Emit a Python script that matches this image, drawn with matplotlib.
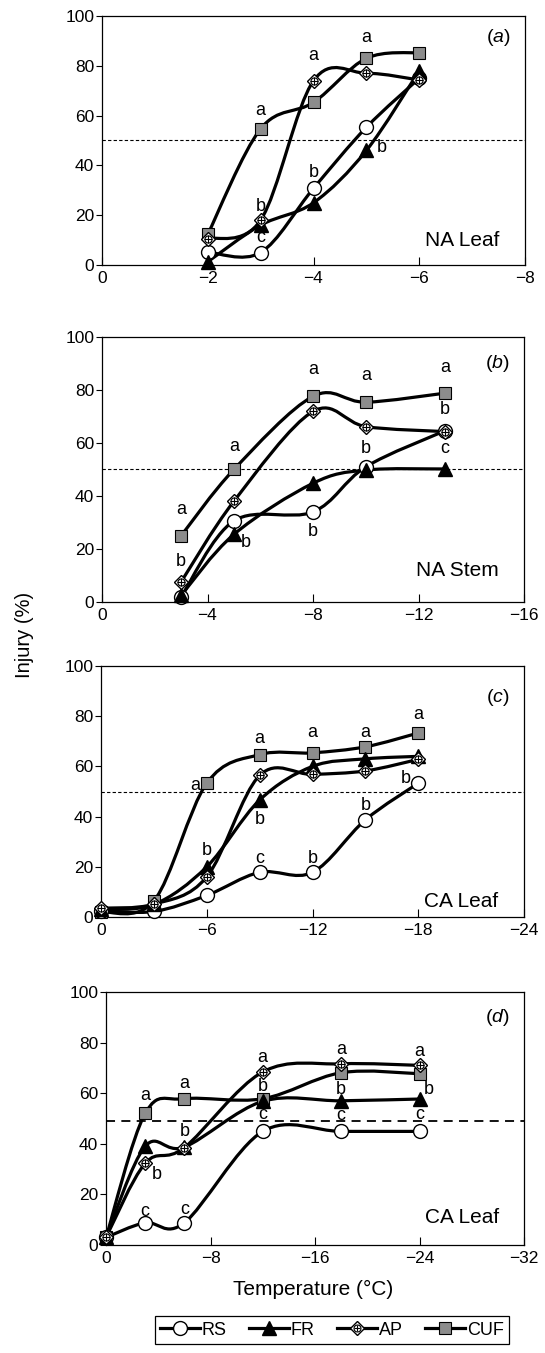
import numpy as np
import matplotlib
matplotlib.use('Agg')
import matplotlib.pyplot as plt
from matplotlib.path import Path
from matplotlib.patches import PathPatch
from matplotlib.lines import Line2D

plt.rcParams['font.family'] = ['Liberation Sans', 'DejaVu Sans']
plt.rcParams['mathtext.fontset'] = 'custom'
plt.rcParams['mathtext.it'] = 'Liberation Sans:italic'
plt.rcParams['mathtext.rm'] = 'Liberation Sans'

# ---- data (injury %) ----
# (a) NA Leaf
a_temp = [-2, -3, -4, -5, -6]
a_rs = [5.2, 5.0, 30.8, 55.3, 75.0]
a_fr = [1.3, 16.0, 25.0, 46.0, 78.0]
a_ap = [10.5, 18.0, 74.0, 77.0, 74.3]
a_cuf = [12.3, 54.7, 65.3, 83.0, 85.3]
a_letters = [('a', -3, 62), ('a', -4, 84), ('a', -5, 91.5), ('b', -5.29, 47),
             ('b', -4, 37), ('b', -3, 23.5), ('c', -3, 11)]

# (b) NA Stem
b_temp = [-3, -5, -8, -10, -13]
b_rs = [1.9, 30.6, 34.0, 51.0, 64.6]
b_fr = [2.5, 25.5, 44.8, 49.8, 50.2]
b_ap = [7.6, 38.0, 71.9, 66.2, 64.3]
b_cuf = [25.0, 50.0, 77.6, 75.4, 78.8]
b_letters = [('a', -3, 35), ('b', -3, 15.4), ('a', -5, 58.6), ('b', -5.44, 22.4),
             ('a', -8, 87.6), ('b', -8, 26.7), ('a', -10, 85.4), ('b', -10, 57.8),
             ('a', -13, 88.5), ('b', -13, 72.5), ('c', -13, 57.8)]

# (c) CA Leaf
c_temp = [0, -3, -6, -9, -12, -15, -18]
c_rs = [2.5, 2.2, 8.6, 17.8, 17.8, 38.7, 53.3]
c_fr = [3.0, 5.0, 20.0, 46.6, 60.0, 63.0, 64.0]
c_ap = [3.5, 5.1, 16.0, 56.4, 56.8, 58.2, 62.8]
c_cuf = [2.0, 6.4, 53.3, 64.7, 65.4, 67.8, 73.3]
c_letters = [('a', -5.36, 52.2), ('b', -6, 26.3), ('a', -9, 71.3), ('b', -9, 39),
             ('c', -9, 23.5), ('a', -12, 73.5), ('b', -12, 23.5), ('a', -15, 73.7),
             ('b', -15, 44.3), ('a', -18, 80.8), ('b', -17.3, 55.3)]

# (d) CA Leaf
d_temp = [0, -3, -6, -12, -18, -24]
d_rs = [3.0, 8.8, 8.8, 44.9, 44.9, 44.9]
d_fr = [3.0, 39.0, 38.7, 56.8, 57.0, 57.7]
d_ap = [3.0, 32.3, 38.5, 68.4, 71.6, 71.0]
d_cuf = [3.0, 52.0, 57.8, 57.8, 68.1, 67.7]
d_letters = [('a', -3, 59), ('a', -6, 64), ('b', -6, 45), ('b', -3.86, 27.7),
             ('c', -3, 13.3), ('c', -6, 14.2), ('a', -12, 74.2), ('b', -12, 62.8),
             ('c', -12, 51.6), ('a', -18, 77.4), ('b', -18, 61.5), ('c', -18, 51.2),
             ('a', -24, 76.5), ('b', -24.7, 61.3), ('c', -24, 51.6)]

panels = [
    ('a', 'NA Leaf', a_temp, a_rs, a_fr, a_ap, a_cuf, a_letters, [0, -2, -4, -6, -8], 50),
    ('b', 'NA Stem', b_temp, b_rs, b_fr, b_ap, b_cuf, b_letters, [0, -4, -8, -12, -16], 50),
    ('c', 'CA Leaf', c_temp, c_rs, c_fr, c_ap, c_cuf, c_letters, [0, -6, -12, -18, -24], 50),
    ('d', 'CA Leaf', d_temp, d_rs, d_fr, d_ap, d_cuf, d_letters, [0, -8, -16, -24, -32], 49),
]

# axes boxes in pixels: left, right, top, bottom
W, H = 545, 1353
boxes = [(102, 525, 16, 265), (102, 524, 337, 602), (101, 524, 666, 917), (106, 524, 992, 1245)]
text_pos = [(0.937, 0.915, 0.94, 0.10), (0.937, 0.90, 0.94, 0.117),
            (0.937, 0.874, 0.94, 0.063), (0.937, 0.90, 0.94, 0.11)]

LW = 2.3
sq_color = '0.55'


def smooth_path(xs, ys):
    # Catmull-Rom style bezier (like spreadsheet "smoothed line")
    pts = list(zip(xs, ys))
    n = len(pts)
    verts = [pts[0]]
    codes = [Path.MOVETO]
    for i in range(n - 1):
        p0 = pts[i - 1] if i > 0 else pts[i]
        p1 = pts[i]
        p2 = pts[i + 1]
        p3 = pts[i + 2] if i + 2 < n else pts[i + 1]
        c1 = (p1[0] + (p2[0] - p0[0]) / 6.0, p1[1] + (p2[1] - p0[1]) / 6.0)
        c2 = (p2[0] - (p3[0] - p1[0]) / 6.0, p2[1] - (p3[1] - p1[1]) / 6.0)
        verts += [c1, c2, p2]
        codes += [Path.CURVE4] * 3
    return Path(verts, codes)


def ap_markers(ax, x, y, ms=8.5):
    ax.plot(x, y, ls='none', marker='D', ms=ms * 0.85, mfc='white', mec='black', mew=1.0, clip_on=False, zorder=6)
    ax.plot(x, y, ls='none', marker='o', ms=ms * 0.6, mfc='none', mec='black', mew=0.8, clip_on=False, zorder=7)
    ax.plot(x, y, ls='none', marker='+', ms=ms * 0.6, mec='black', mew=0.8, clip_on=False, zorder=7)


fig = plt.figure(figsize=(W / 100, H / 100), dpi=100)

for (tag, name, temp, rs, fr, ap, cuf, letters, xt, cut), box, tp in zip(panels, boxes, text_pos):
    l, r, t, b = box
    ax = fig.add_axes([l / W, 1 - b / H, (r - l) / W, (b - t) / H])

    for ys in [rs, fr, ap, cuf]:
        ax.add_patch(PathPatch(smooth_path(temp, ys), fill=False, edgecolor='black',
                               lw=LW, capstyle='round', joinstyle='round', zorder=3, clip_on=False))

    if tag == 'd':
        ax.axhline(cut, color='black', lw=1.3, dashes=(5, 3.5), zorder=2)
    else:
        ax.axhline(cut, color='black', lw=0.8, dashes=(3, 2), zorder=2)

    ax.plot(temp, cuf, ls='none', marker='s', ms=9, mfc=sq_color, mec='black', mew=0.8, clip_on=False, zorder=5)
    ax.plot(temp, rs, ls='none', marker='o', ms=10, mfc='white', mec='black', mew=1.0, clip_on=False, zorder=5)
    ax.plot(temp, fr, ls='none', marker='^', ms=9.5, mfc='black', mec='black', clip_on=False, zorder=5)
    ap_markers(ax, temp, ap)

    for s, x, y in letters:
        ax.text(x, y, s, fontsize=13, ha='center', va='center', zorder=8)

    ax.text(tp[0], tp[1], r'($\mathit{' + tag + '}$)', transform=ax.transAxes,
            fontsize=14, ha='center', va='center')
    ax.text(tp[2], tp[3], name, transform=ax.transAxes, fontsize=15, ha='right', va='center')

    ax.set_xlim(xt[0], xt[-1])
    ax.set_ylim(0, 100)
    ax.set_xticks(xt)
    ax.set_yticks([0, 20, 40, 60, 80, 100])
    ax.tick_params(axis='x', direction='in', length=6, width=0.8, labelsize=12.5, pad=4)
    ax.tick_params(axis='y', direction='out', length=4.5, width=0.8, labelsize=12.5, pad=1)
    for sp in ax.spines.values():
        sp.set_linewidth(0.9)

fig.text(25 / W, 1 - 635 / H, 'Injury (%)', rotation=90, fontsize=14.5, ha='center', va='center')
fig.text(313 / W, 1 - 1289 / H, 'Temperature (\u00b0C)', fontsize=15, ha='center', va='center')

h_rs = Line2D([], [], color='black', lw=LW, marker='o', ms=10, mfc='white', mec='black')
h_fr = Line2D([], [], color='black', lw=LW, marker='^', ms=9.5, mfc='black', mec='black')
h_ap = (Line2D([], [], color='black', lw=LW, marker='D', ms=7.2, mfc='white', mec='black'),
        Line2D([], [], ls='none', marker='o', ms=5, mfc='none', mec='black', mew=0.8),
        Line2D([], [], ls='none', marker='+', ms=5, mec='black', mew=0.8))
h_cuf = Line2D([], [], color='black', lw=LW, marker='s', ms=9, mfc=sq_color, mec='black', mew=0.8)
leg = fig.legend([h_rs, h_fr, h_ap, h_cuf], ['RS', 'FR', 'AP', 'CUF'], ncol=4,
                 loc='lower center', bbox_to_anchor=(332 / W, 1 - 1344 / H), fontsize=13,
                 frameon=True, fancybox=False, edgecolor='black', framealpha=1,
                 handlelength=2.2, handletextpad=0.1, columnspacing=1.25,
                 borderpad=0.3, borderaxespad=0.0)
leg.get_frame().set_linewidth(0.9)

fig.savefig('out.png', dpi=100)
